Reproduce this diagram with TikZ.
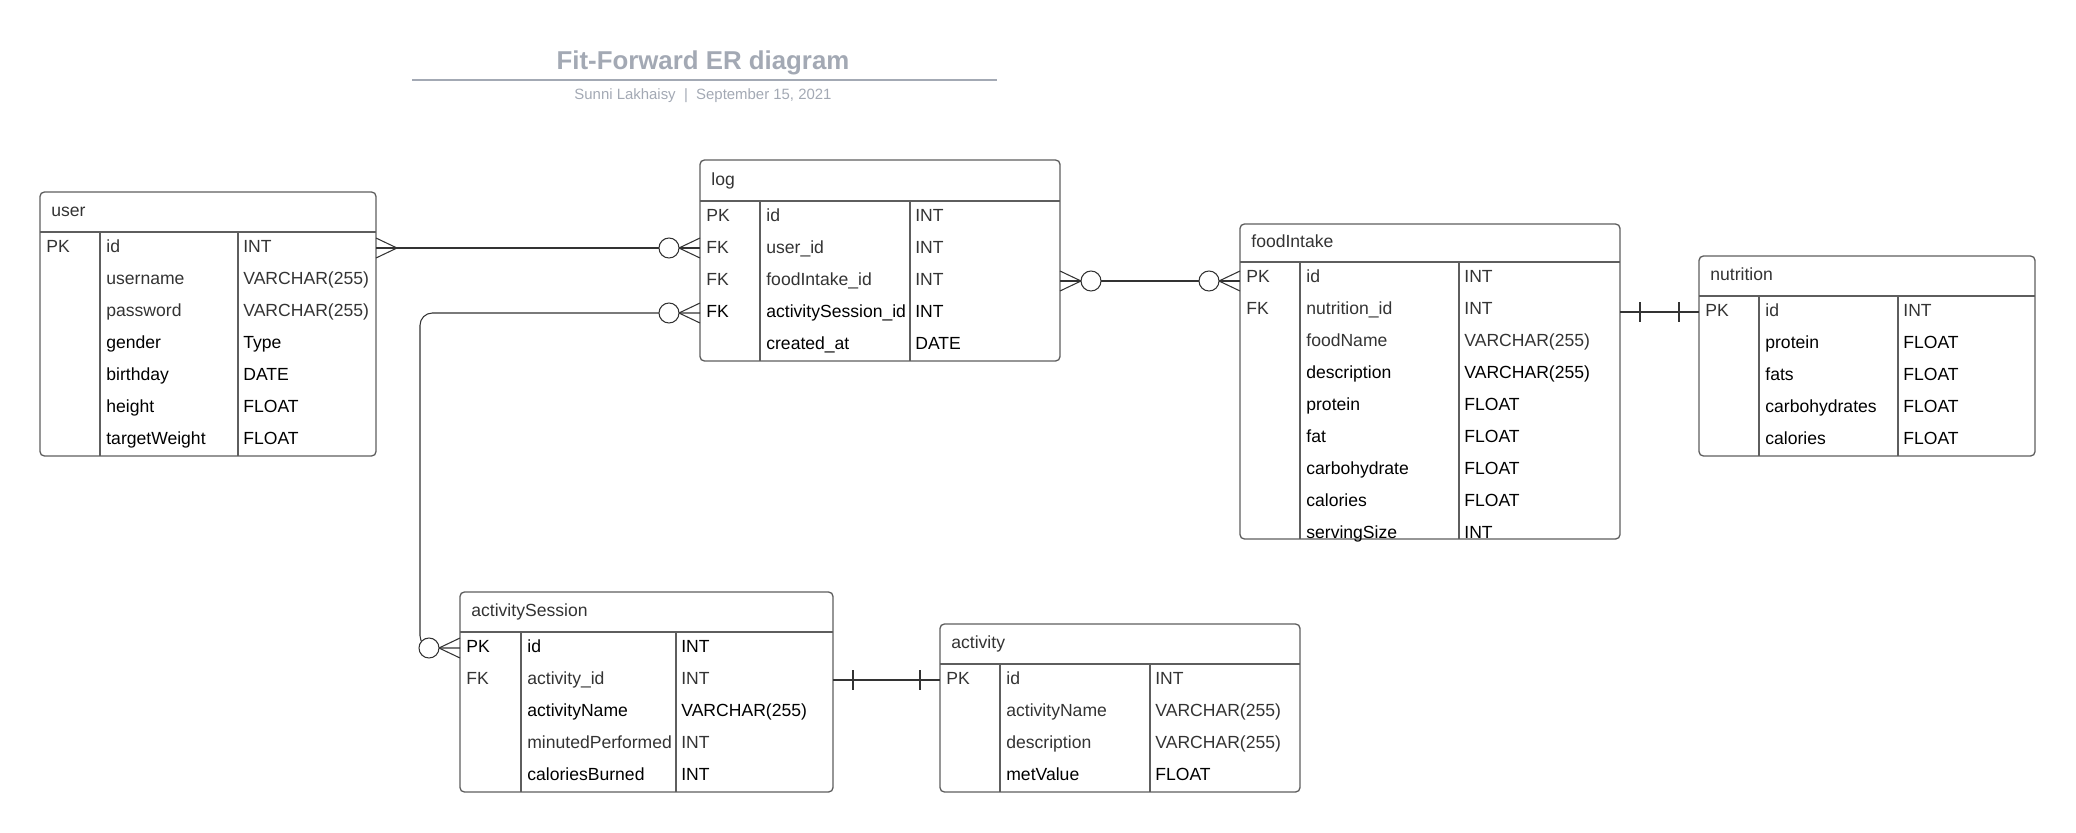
\documentclass[tikz,border=0pt]{standalone}
\usepackage{fontspec}
\setmainfont{Liberation Sans}
\usetikzlibrary{positioning,fit}

\definecolor{edgegray}{HTML}{5E5E5E}
\definecolor{inkgray}{HTML}{333333}
\definecolor{titlegray}{HTML}{A3A9B4}

\tikzset{
  frame/.style={draw=edgegray, line width=0.75pt, rounded corners=2.5pt, inner sep=0pt, outer sep=0pt},
  grid/.style={draw=edgegray, line width=0.75pt},
  headtext/.style={anchor=base west, inner sep=0pt, text=inkgray, font=\fontsize{10}{12}\selectfont},
  cell/.style={anchor=base west, inner sep=0pt, font=\fontsize{10}{12}\selectfont},
  soft/.style={text=inkgray},
  hard/.style={text=black},
  conn/.style={draw=inkgray, line width=0.6pt},
  many/.pic={\draw[conn] (0,-10) -- (21,0) -- (0,10);},
  zeromany/.pic={\draw[conn] (0,-10) -- (21,0) -- (0,10);
    \draw[conn, fill=white] (31,0) circle[radius=10];},
  one/.pic={\draw[conn] (20,-10) -- (20,10);}
}

% name, left, top, head line, column 1, column 2, right, bottom, title
\newcommand{\entity}[9]{
  \coordinate (#1-nw) at (#2,#3);
  \coordinate (#1-se) at (#7,#8);
  \node[frame, fit=(#1-nw)(#1-se)] (#1) {};
  \draw[grid] (#2,#4) -- (#7,#4) (#5,#4) -- (#5,#8) (#6,#4) -- (#6,#8);
  \node[headtext] (#1-title) at (#2+11, {(#3+#4)/2+4.5}) {#9};
}
% name, left, column 1, column 2, head line, rows
\newcommand{\fields}[6]{
  \foreach \k/\f/\t/\c [count=\i] in {#6} {
    \coordinate (#1-r\i) at (#2, #5+32*\i-16);
    \node[cell,\c] (#1-k\i) at (#2+6, #5+32*\i-12) {\k};
    \node[cell,\c] (#1-f\i) at (#3+6, #5+32*\i-12) {\f};
    \node[cell,\c] (#1-t\i) at (#4+5, #5+32*\i-12) {\t};
  }
}

\begin{document}
\begin{tikzpicture}[x=0.02cm, y=-0.02cm]
\useasboundingbox (0,0) rectangle (2076,832);

% title
\node[text=titlegray, font=\bfseries\fontsize{14.7}{17}\selectfont] (title) at (703,63) {Fit-Forward ER diagram};
\draw[titlegray, line width=1.1pt] (412,80) -- (997,80);
\node[text=titlegray, font=\fontsize{8.5}{10}\selectfont] (byline) at (703,96) {Sunni Lakhaisy~~|~~September 15, 2021};

% tables
\entity{user}{40}{192}{232}{100}{238}{376}{456}{user}
\fields{user}{40}{100}{238}{232}{PK/id/INT/soft, /username/VARCHAR(255)/soft, /password/VARCHAR(255)/soft,
  /gender/Type/hard, /birthday/DATE/hard, /height/FLOAT/hard, /targetWeight/FLOAT/hard}

\entity{log}{700}{160}{201}{760}{910}{1060}{361}{log}
\fields{log}{700}{760}{910}{201}{PK/id/INT/soft, FK/user\_id/INT/soft, FK/foodIntake\_id/INT/soft,
  FK/activitySession\_id/INT/hard, /created\_at/DATE/hard}

\entity{food}{1240}{224}{262}{1300}{1459}{1620}{539}{foodIntake}
\fields{food}{1240}{1300}{1459}{262}{PK/id/INT/soft, FK/nutrition\_id/INT/soft, /foodName/VARCHAR(255)/soft,
  /description/VARCHAR(255)/hard, /protein/FLOAT/hard, /fat/FLOAT/hard, /carbohydrate/FLOAT/hard,
  /calories/FLOAT/hard, /servingSize/INT/hard}

\entity{nutrition}{1699}{256}{296}{1759}{1898}{2035}{456}{nutrition}
\fields{nutrition}{1699}{1759}{1898}{296}{PK/id/INT/soft, /protein/FLOAT/hard, /fats/FLOAT/hard,
  /carbohydrates/FLOAT/hard, /calories/FLOAT/hard}

\entity{session}{460}{592}{632}{521}{676}{833}{792}{activitySession}
\fields{session}{460}{521}{676}{632}{PK/id/INT/hard, FK/activity\_id/INT/soft, /activityName/VARCHAR(255)/hard,
  /minutedPerformed/INT/soft, /caloriesBurned/INT/hard}

\entity{activity}{940}{624}{664}{1000}{1150}{1300}{792}{activity}
\fields{activity}{940}{1000}{1150}{664}{PK/id/INT/soft, /activityName/VARCHAR(255)/soft,
  /description/VARCHAR(255)/soft, /metValue/FLOAT/hard}

% relations
\coordinate (sessturn) at (420,0);
\draw[conn] (user.east |- user-r1) -- (log.west |- user-r1);
\draw[conn, rounded corners=7pt] (log.west |- log-r4) -| (sessturn |- session-r1) -- (session.west |- session-r1);
\draw[conn] (log.east |- log-r3) -- (food.west |- log-r3);
\draw[conn] (food.east |- nutrition-r1) -- (nutrition.west |- nutrition-r1);
\draw[conn] (session.east |- activity-r1) -- (activity.west |- activity-r1);

\pic at (user.east |- user-r1) {many};
\pic[xscale=-1] at (log.west |- user-r1) {zeromany};
\pic[xscale=-1] at (log.west |- log-r4) {zeromany};
\pic[xscale=-1] at (session.west |- session-r1) {zeromany};
\pic at (log.east |- log-r3) {zeromany};
\pic[xscale=-1] at (food.west |- log-r3) {zeromany};
\pic at (food.east |- nutrition-r1) {one};
\pic[xscale=-1] at (nutrition.west |- nutrition-r1) {one};
\pic at (session.east |- activity-r1) {one};
\pic[xscale=-1] at (activity.west |- activity-r1) {one};
\end{tikzpicture}
\end{document}
